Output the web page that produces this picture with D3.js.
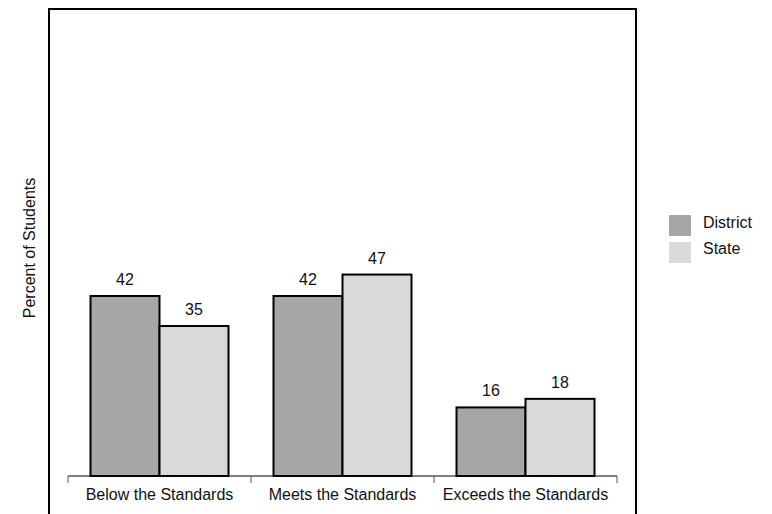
<!DOCTYPE html>
<html><head><meta charset="utf-8">
<script src="https://cdn.jsdelivr.net/npm/d3@7/dist/d3.min.js"></script>
<style>body{margin:0;background:#fff}svg{display:block}text{font-family:"Liberation Sans",Arial,sans-serif;fill:#111}</style>
</head><body><svg id="c" width="772" height="514"></svg>
<script>
const categories = ["Below the Standards", "Meets the Standards", "Exceeds the Standards"];
const seriesNames = ["District", "State"];
const district = [42, 42, 16];
const state = [35, 47, 18];
const colors = ["#a6a6a6", "#d9d9d9"];
const yLabel = "Percent of Students";

const svg = d3.select("#c");
// frame
svg.append("rect").attr("x", 49).attr("y", 9).attr("width", 587).attr("height", 530)
  .attr("fill", "none").attr("stroke", "#000").attr("stroke-width", 2);

const x0 = d3.scaleBand().domain(categories).range([68, 617]).paddingInner(0).paddingOuter(0);
const x1 = d3.scaleBand().domain(seriesNames).range([22.5, x0.bandwidth() - 22.5]).padding(0);
const y = d3.scaleLinear().domain([0, 100]).range([476, 47.4]);

const data = categories.map((c, i) => ({cat: c, vals: [district[i], state[i]]}));

const g = svg.append("g");
data.forEach(d => {
  d.vals.forEach((v, j) => {
    const xx = x0(d.cat) + x1(seriesNames[j]);
    g.append("rect").attr("x", xx).attr("y", y(v)).attr("width", x1.bandwidth()).attr("height", y(0) - y(v))
      .attr("fill", colors[j]).attr("stroke", "#000").attr("stroke-width", 2);
    g.append("text").attr("x", xx + x1.bandwidth() / 2).attr("y", y(v) - 11)
      .attr("text-anchor", "middle").attr("font-size", 16).text(v);
  });
});

// x axis
const ax = svg.append("g").attr("transform", "translate(0,476)");
ax.append("line").attr("x1", 68).attr("x2", 617).attr("stroke", "#000").attr("stroke-width", 1.2);
const tickPos = categories.map(c => x0(c)).concat([x0.range()[1]]);
tickPos.forEach(t => ax.append("line").attr("x1", t).attr("x2", t).attr("y1", 0).attr("y2", 7).attr("stroke", "#555").attr("stroke-width", 1));
categories.forEach(c => ax.append("text").attr("x", x0(c) + x0.bandwidth() / 2).attr("y", 24)
  .attr("text-anchor", "middle").attr("font-size", 16).text(c));

// y label
svg.append("text").attr("transform", "translate(35,248) rotate(-90)").attr("text-anchor", "middle")
  .attr("font-size", 16).text(yLabel);

// legend
const lg = svg.append("g");
seriesNames.forEach((s, i) => {
  lg.append("rect").attr("x", 669).attr("y", 215 + i * 27).attr("width", 22).attr("height", 21).attr("fill", colors[i]);
  lg.append("text").attr("x", 703).attr("y", 228 + i * 26).attr("font-size", 16).text(s);
});
</script></body></html>
